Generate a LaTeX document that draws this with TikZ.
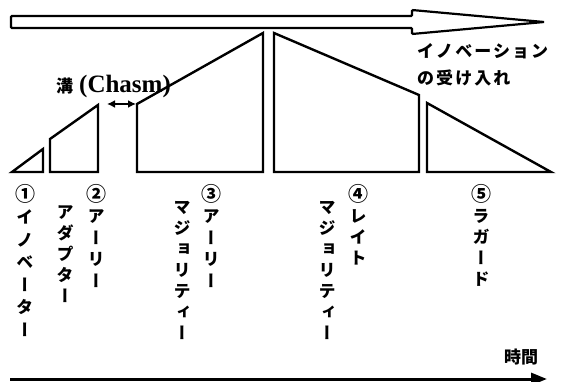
\documentclass[tikz,border=0pt]{standalone}
\usepackage{fontspec}
\setmainfont{Liberation Serif}
\newfontfamily\jp{Noto Sans CJK JP}
\newfontfamily\jpv[RawFeature={+vert}]{Noto Sans CJK JP}
\newcommand{\circnum}[1]{{\fontsize{20}{21}\selectfont #1}}
\usetikzlibrary{arrows.meta}
\begin{document}
\begin{tikzpicture}[x=1pt,y=-1pt,
  segm/.style={draw, line width=2.4pt, line join=miter},
  vlabel/.style={font=\jpv\bfseries\fontsize{17}{21.5}\selectfont, align=center, anchor=north, inner sep=0pt},
  toptext/.style={font=\jp\bfseries\fontsize{17}{20}\selectfont\addfontfeature{LetterSpace=12}, anchor=west, inner sep=0pt},
  chasmarrow/.style={{Latex[length=8pt,width=8pt]}-{Latex[length=8pt,width=8pt]}, line width=2pt},
  timearrow/.style={-{Triangle[length=16pt,width=12pt]}, line width=3pt}]
\clip (0,0) rectangle (570,382);
\useasboundingbox (0,0) rectangle (570,382);
% adoption arrow
\draw[line width=2.2pt, line join=miter, rounded corners=1pt] (11,16) -- (412,16) -- (412,10) -- (544,22) -- (412,34) -- (412,28) -- (11,28) -- cycle;
% segments
\draw[segm] (12,172) -- (43,149) -- (43,172) -- cycle;
\draw[segm] (50,172) -- (50,139) -- (98,105) -- (98,172) -- cycle;
\draw[segm] (137,172) -- (137,104) -- (263,33) -- (263,172) -- cycle;
\draw[segm] (274,172) -- (274,33) -- (419,95) -- (419,172) -- cycle;
\draw[segm] (427,172) -- (427,103) -- (551,172) -- cycle;
% chasm
\coordinate (chL) at (107,104);
\coordinate (chR) at (136,104);
\draw[chasmarrow] (chL) -- (chR);
\node[anchor=west, inner sep=0pt] (chasm) at (56,86) {{\jp\bfseries\fontsize{17}{20}\selectfont 溝}\hspace{6pt}{\bfseries\fontsize{25}{27}\selectfont (Chasm)}};
% top right text
\node[toptext] (acc1) at (417,51) {イノベーション};
\node[toptext] (acc2) at (417,78) {の受け入れ};
% labels
\node[vlabel, font=\jpv\bfseries\fontsize{17}{22.5}\selectfont] (l1) at (25,184) {\circnum{①}\\イ\\ノ\\ベ\\ー\\タ\\ー};
\node[vlabel] (l2) at (96,184) {\circnum{②}\\ア\\ー\\リ\\ー};
\node[vlabel, font=\jpv\bfseries\fontsize{17}{21}\selectfont] (l2b) at (65,205) {ア\\ダ\\プ\\タ\\ー};
\node[vlabel] (l3) at (211,184) {\circnum{③}\\ア\\ー\\リ\\ー};
\node[vlabel, font=\jpv\bfseries\fontsize{17}{21}\selectfont] (l3b) at (182,201) {マ\\ジ\\ョ\\リ\\テ\\ィ\\ー};
\node[vlabel, font=\jpv\bfseries\fontsize{17}{21}\selectfont] (l4) at (358,184) {\circnum{④}\\レ\\イ\\ト};
\node[vlabel, font=\jpv\bfseries\fontsize{17}{21}\selectfont] (l4b) at (327,201) {マ\\ジ\\ョ\\リ\\テ\\ィ\\ー};
\node[vlabel, font=\jpv\bfseries\fontsize{17}{21}\selectfont] (l5) at (481,184) {\circnum{⑤}\\ラ\\ガ\\ー\\ド};
% time axis
\node[font=\jp\bfseries\fontsize{17}{20}\selectfont, inner sep=0pt] (time) at (521,357) {時間};
\coordinate (t0) at (10,379);
\coordinate (t1) at (547,379);
\draw[timearrow] (t0) -- (t1);
\end{tikzpicture}
\end{document}
